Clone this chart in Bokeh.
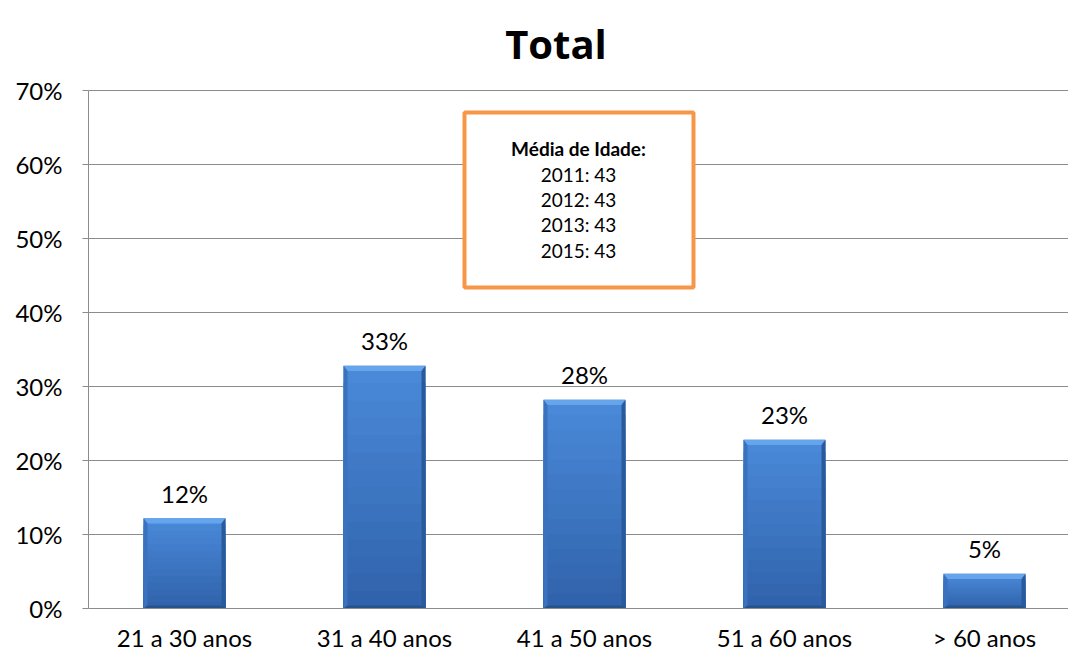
from bokeh.plotting import figure
from bokeh.models import Range1d, FixedTicker, BoxAnnotation, Label, NumeralTickFormatter
from bokeh.embed import file_html
from bokeh.resources import INLINE

categories = ["21 a 30 anos", "31 a 40 anos", "41 a 50 anos", "51 a 60 anos", "> 60 anos"]
values = [12.2, 32.8, 28.2, 22.8, 4.7]
value_labels = ["12%", "33%", "28%", "23%", "5%"]
y_ticks = [0, 10, 20, 30, 40, 50, 60, 70]
chart_title = "Total"
box_title = "Média de Idade:"
box_lines = ["2011: 43", "2012: 43", "2013: 43", "2015: 43"]

FONT = "Lato"

# frame spans full height above the axis; the value axis is bounded to 0..70
p = figure(width=1068, height=654, output_backend="svg", toolbar_location=None,
           x_range=Range1d(-0.48, 4.42), y_range=Range1d(0, 82.16),
           min_border_left=88, min_border_right=0, min_border_top=0, min_border_bottom=44)

p.outline_line_color = None
p.background_fill_color = "white"
p.border_fill_color = "white"

# grid
p.xgrid.grid_line_color = None
p.ygrid.grid_line_color = "#8c8c8c"
p.ygrid.grid_line_width = 1
p.ygrid.ticker = FixedTicker(ticks=y_ticks)

# y axis
p.yaxis.ticker = FixedTicker(ticks=y_ticks)
p.yaxis.bounds = (0, 70)
p.yaxis.formatter = NumeralTickFormatter(format="0")
p.yaxis.major_label_overrides = {t: f"{t}%" for t in y_ticks}
p.yaxis.axis_line_color = "#8c8c8c"
p.yaxis.major_tick_line_color = "#8c8c8c"
p.yaxis.major_tick_out = 6
p.yaxis.major_tick_in = 0
p.yaxis.minor_tick_line_color = None
p.yaxis.major_label_text_font = FONT
p.yaxis.major_label_text_font_size = "24px"
p.yaxis.major_label_text_color = "black"
p.yaxis.major_label_standoff = 20

# x axis
xs = list(range(len(categories)))
p.xaxis.ticker = FixedTicker(ticks=xs)
p.xaxis.major_label_overrides = {i: c for i, c in enumerate(categories)}
p.xaxis.axis_line_color = "#8c8c8c"
p.xaxis.major_tick_line_color = None
p.xaxis.major_tick_out = 0
p.xaxis.minor_tick_line_color = None
p.xaxis.major_label_text_font = FONT
p.xaxis.major_label_text_font_size = "24px"
p.xaxis.major_label_text_color = "black"
p.xaxis.major_label_standoff = 14

# bars: vertical gradient face (stacked from full height downward, no seams)
hw = 0.205
left = [x - hw for x in xs]
right = [x + hw for x in xs]
top_c = (0x4A, 0x8A, 0xDA)
bot_c = (0x30, 0x62, 0xAA)
n = 14
for k in range(n):
    frac = 1 - k / n
    t = 1 - (k + 0.5) / n
    c = tuple(round(bot_c[i] + (top_c[i] - bot_c[i]) * t) for i in range(3))
    col = "#%02x%02x%02x" % c
    p.quad(left=left, right=right, bottom=[0] * len(values), top=[v * frac for v in values],
           fill_color=col, line_color=None)

# bevel edges
bx = 0.02
by = 0.7
top_x, top_y, left_x, left_y, right_x, right_y, bot_x, bot_y = [], [], [], [], [], [], [], []
for x, v in zip(xs, values):
    l, r = x - hw, x + hw
    top_x.append([l, r, r - bx, l + bx]); top_y.append([v, v, v - by, v - by])
    left_x.append([l, l + bx, l + bx, l]); left_y.append([v, v - by, by * 0.6, 0])
    right_x.append([r, r, r - bx, r - bx]); right_y.append([v, 0, by * 0.6, v - by])
    bot_x.append([l, r, r - bx, l + bx]); bot_y.append([0, 0, by * 0.6, by * 0.6])

p.patches(top_x, top_y, fill_color="#66A4EC", line_color=None)
p.patches(left_x, left_y, fill_color="#3A72BE", line_color=None)
p.patches(right_x, right_y, fill_color="#2B5A9C", line_color=None)
p.patches(bot_x, bot_y, fill_color="#27538D", line_color=None)

# value labels
p.text(x=xs, y=[v + 3.4 for v in values], text=value_labels, text_align="center",
       text_baseline="middle", text_font_size="24px", text_color="black",
       text_font={"value": FONT})

# chart title
p.add_layout(Label(x=1.8575, y=76.35, text=chart_title, text_align="center",
                   text_baseline="alphabetic", text_font="Open Sans", text_font_size="40px",
                   text_font_style="bold", text_color="black"))

# average-age box
box = BoxAnnotation(left=1.4, right=2.545, top=67.03, bottom=43.38,
                    fill_color="white", fill_alpha=1.0,
                    line_color="#F79646", line_width=4, line_alpha=1.0)
p.add_layout(box)
cx = 1.97
p.add_layout(Label(x=cx, y=62.16, text=box_title, text_align="center", text_baseline="middle",
                   text_font=FONT, text_font_size="19px", text_font_style="bold", text_color="black"))
line_ys = [58.65, 55.27, 51.89, 48.38]
for t, yy in zip(box_lines, line_ys):
    p.add_layout(Label(x=cx, y=yy, text=t, text_align="center", text_baseline="middle",
                       text_font=FONT, text_font_size="19px", text_color="black"))

open("out.html", "w").write(file_html(p, INLINE))
